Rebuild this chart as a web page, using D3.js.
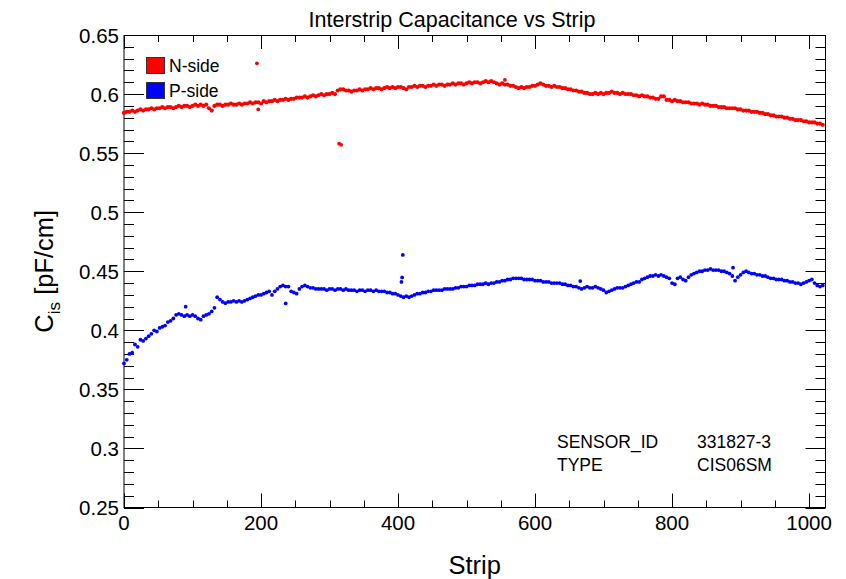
<!DOCTYPE html>
<html>
<head>
<meta charset="utf-8">
<script src="https://cdn.jsdelivr.net/npm/d3@7"></script>
<style>
  body { margin: 0; background: #fff; }
  text { font-family: "Liberation Sans", Arial, sans-serif; }
</style>
</head>
<body>
<div id="chart"></div>
<script>
// strips are measured every 4th channel (index * stripStep)
const stripStep = 4;

const nSide = [
  0.584,0.585,0.585,0.586,0.585,0.586,0.587,0.586,0.587,0.587,0.588,0.587,0.588,0.588,0.589,0.588,
  0.589,0.589,0.588,0.589,0.590,0.589,0.590,0.590,0.589,0.590,0.591,0.590,0.591,0.590,0.591,0.588,
  0.586,0.590,0.591,0.591,0.590,0.591,0.591,0.592,0.591,0.591,0.592,0.591,0.592,0.592,0.593,0.592,
  0.593,0.593,0.592,0.594,0.593,0.594,0.594,0.595,0.594,0.595,0.595,0.596,0.595,0.596,0.596,0.597,
  0.597,0.597,0.598,0.597,0.598,0.599,0.598,0.599,0.600,0.599,0.600,0.600,0.601,0.600,0.603,0.604,
  0.604,0.603,0.603,0.602,0.603,0.603,0.604,0.603,0.604,0.604,0.605,0.604,0.605,0.605,0.604,0.605,
  0.606,0.605,0.606,0.605,0.606,0.606,0.605,0.604,0.606,0.606,0.607,0.606,0.607,0.607,0.606,0.607,
  0.607,0.608,0.607,0.608,0.608,0.607,0.608,0.608,0.609,0.608,0.609,0.609,0.608,0.609,0.610,0.609,
  0.610,0.610,0.609,0.610,0.611,0.610,0.611,0.610,0.609,0.608,0.609,0.608,0.608,0.607,0.607,0.606,
  0.605,0.606,0.605,0.606,0.606,0.607,0.607,0.608,0.609,0.608,0.607,0.607,0.606,0.607,0.606,0.606,
  0.605,0.605,0.604,0.604,0.603,0.603,0.602,0.602,0.601,0.601,0.600,0.600,0.601,0.600,0.601,0.600,
  0.601,0.601,0.602,0.601,0.601,0.600,0.601,0.600,0.600,0.600,0.599,0.599,0.598,0.599,0.598,0.598,
  0.597,0.597,0.596,0.596,0.598,0.598,0.595,0.595,0.594,0.595,0.594,0.594,0.593,0.593,0.593,0.592,
  0.592,0.592,0.591,0.592,0.591,0.591,0.590,0.590,0.590,0.589,0.589,0.589,0.588,0.588,0.588,0.588,
  0.587,0.587,0.586,0.586,0.586,0.585,0.585,0.585,0.584,0.584,0.583,0.583,0.582,0.582,0.581,0.581,
  0.581,0.580,0.580,0.579,0.579,0.578,0.578,0.578,0.577,0.577,0.576,0.576,0.576,0.575,0.575,0.574
];

const pSide = [
  0.372,0.375,0.380,0.381,0.388,0.386,0.392,0.391,0.393,0.395,0.397,0.400,0.399,0.402,0.403,0.404,
  0.407,0.408,0.410,0.413,0.414,0.413,0.412,0.413,0.412,0.413,0.412,0.410,0.409,0.412,0.413,0.414,
  0.416,0.419,0.428,0.426,0.424,0.423,0.424,0.424,0.425,0.424,0.425,0.424,0.425,0.426,0.427,0.428,
  0.429,0.430,0.430,0.431,0.432,0.433,0.430,0.433,0.435,0.437,0.438,0.437,0.437,0.433,0.432,0.431,
  0.435,0.437,0.438,0.437,0.436,0.436,0.435,0.435,0.435,0.435,0.434,0.435,0.435,0.434,0.435,0.435,
  0.434,0.435,0.434,0.434,0.434,0.433,0.434,0.434,0.433,0.434,0.434,0.433,0.434,0.433,0.433,0.433,
  0.432,0.432,0.431,0.431,0.430,0.429,0.428,0.429,0.428,0.429,0.430,0.431,0.431,0.432,0.432,0.433,
  0.433,0.434,0.434,0.434,0.434,0.435,0.435,0.435,0.435,0.436,0.436,0.437,0.437,0.437,0.438,0.438,
  0.438,0.439,0.439,0.439,0.440,0.439,0.440,0.440,0.441,0.441,0.442,0.442,0.443,0.443,0.444,0.444,
  0.444,0.444,0.443,0.443,0.443,0.443,0.442,0.442,0.442,0.441,0.441,0.441,0.440,0.440,0.440,0.440,
  0.439,0.439,0.438,0.438,0.437,0.437,0.436,0.435,0.436,0.437,0.436,0.436,0.437,0.436,0.435,0.434,
  0.432,0.433,0.434,0.435,0.436,0.436,0.436,0.437,0.438,0.439,0.440,0.441,0.441,0.443,0.444,0.445,
  0.446,0.446,0.447,0.446,0.447,0.446,0.445,0.444,0.440,0.439,0.444,0.445,0.443,0.442,0.445,0.447,
  0.448,0.449,0.450,0.450,0.451,0.451,0.452,0.451,0.451,0.451,0.450,0.450,0.449,0.448,0.446,0.442,
  0.445,0.447,0.449,0.450,0.449,0.448,0.448,0.447,0.447,0.446,0.446,0.445,0.444,0.444,0.443,0.443,
  0.443,0.442,0.442,0.441,0.441,0.440,0.440,0.439,0.440,0.441,0.442,0.443,0.440,0.438,0.437,0.438
];

// odd strips that stick out of the band
const nOutStrips = [194, 196, 314, 317, 556];
const nOutValues = [0.626, 0.587, 0.558, 0.557, 0.612];
const pOutStrips = [90, 236, 405, 406, 407, 666, 889];
const pOutValues = [0.420, 0.4228, 0.441, 0.4448, 0.4638, 0.4417, 0.453];

const xTicks = [0, 200, 400, 600, 800, 1000];
const yTicks = [0.25, 0.3, 0.35, 0.4, 0.45, 0.5, 0.55, 0.6, 0.65];

const seriesNames = ["N-side", "P-side"];
const seriesColors = ["#ff0000", "#0000ff"];
const infoKeys = ["SENSOR_ID", "TYPE"];
const infoValues = ["331827-3", "CIS06SM"];

const width = 846, height = 579;
const margin = { top: 35, right: 20, bottom: 71, left: 124 };
const x0 = margin.left, x1 = width - margin.right - 0.5;
const y0 = height - margin.bottom - 0.5, y1 = margin.top;

const x = d3.scaleLinear().domain([0, 1024]).range([x0, x1]);
const y = d3.scaleLinear().domain([0.25, 0.65]).range([y0, y1]);

const svg = d3.select("#chart").append("svg")
    .attr("width", width)
    .attr("height", height);

// ticks on all four sides, ROOT style (inward)
const xMinor = d3.range(0, 1024, 50).filter(v => v % 200 !== 0);
const yMinor = d3.range(25, 66).map(v => v / 100).filter(v => Math.round(v * 100) % 5 !== 0);

const tickG = svg.append("g").attr("stroke", "#000").attr("stroke-width", 1);
const addXTicks = (vals, len) => {
    tickG.selectAll(null).data(vals).join("line")
        .attr("x1", d => Math.round(x(d)) + 0.5).attr("x2", d => Math.round(x(d)) + 0.5)
        .attr("y1", y0).attr("y2", y0 - len);
    tickG.selectAll(null).data(vals).join("line")
        .attr("x1", d => Math.round(x(d)) + 0.5).attr("x2", d => Math.round(x(d)) + 0.5)
        .attr("y1", y1).attr("y2", y1 + len);
};
const addYTicks = (vals, len) => {
    tickG.selectAll(null).data(vals).join("line")
        .attr("y1", d => Math.round(y(d)) + 0.5).attr("y2", d => Math.round(y(d)) + 0.5)
        .attr("x1", x0).attr("x2", x0 + len);
    tickG.selectAll(null).data(vals).join("line")
        .attr("y1", d => Math.round(y(d)) + 0.5).attr("y2", d => Math.round(y(d)) + 0.5)
        .attr("x1", x1).attr("x2", x1 - len);
};
addXTicks(xTicks, 14);
addXTicks(xMinor, 7);
addYTicks(yTicks, 20);
addYTicks(yMinor, 10);

svg.append("rect")
    .attr("x", x0).attr("y", y1 + 0.5)
    .attr("width", x1 - x0).attr("height", y0 - y1 - 0.5)
    .attr("fill", "none").attr("stroke", "#000");

// tick labels
svg.append("g").selectAll("text").data(xTicks).join("text")
    .attr("x", d => x(d)).attr("y", y0 + 22)
    .attr("text-anchor", "middle")
    .attr("font-size", 20.5)
    .text(d => d);

svg.append("g").selectAll("text").data(yTicks).join("text")
    .attr("x", x0 - 5).attr("y", d => y(d) + 7.5)
    .attr("text-anchor", "end")
    .attr("font-size", 20.5)
    .text(d => d3.format("")(d));

// points
const plotG = svg.append("g");
const drawSeries = (vals, color, r) => {
    plotG.append("g").attr("fill", color)
        .selectAll("circle").data(vals).join("circle")
        .attr("cx", (d, i) => x(i * stripStep))
        .attr("cy", d => y(d))
        .attr("r", r);
};
const drawOut = (strips, vals, color, r) => {
    plotG.append("g").attr("fill", color)
        .selectAll("circle").data(strips).join("circle")
        .attr("cx", d => x(d))
        .attr("cy", (d, i) => y(vals[i]))
        .attr("r", r);
};
drawSeries(nSide, seriesColors[0], 2.1);
drawSeries(pSide, seriesColors[1], 1.9);
drawOut(nOutStrips, nOutValues, seriesColors[0], 1.9);
drawOut(pOutStrips, pOutValues, seriesColors[1], 1.9);

// legend
const legend = svg.append("g").selectAll("g").data(seriesNames).join("g")
    .attr("transform", (d, i) => `translate(146,${57 + i * 25})`);
legend.append("rect")
    .attr("x", 0.5).attr("y", 0.5)
    .attr("width", 18).attr("height", 16)
    .attr("fill", (d, i) => seriesColors[i])
    .attr("stroke", "#333");
legend.append("text")
    .attr("x", 23).attr("y", 15)
    .attr("font-size", 17.5)
    .text(d => d);

// sensor info
const info = svg.append("g").selectAll("g").data(infoKeys).join("g")
    .attr("transform", (d, i) => `translate(557,${448 + i * 23})`);
info.append("text").attr("font-size", 17.5).text(d => d);
info.append("text").attr("x", 140).attr("font-size", 17.5).text((d, i) => infoValues[i]);

// titles
svg.append("text")
    .attr("x", 452).attr("y", 27)
    .attr("text-anchor", "middle")
    .attr("font-size", 21.5)
    .text("Interstrip Capacitance vs Strip");

svg.append("text")
    .attr("x", (x0 + x1) / 2).attr("y", 574)
    .attr("text-anchor", "middle")
    .attr("font-size", 25.5)
    .text("Strip");

const yLab = svg.append("text")
    .attr("transform", `translate(53,${(y0 + y1) / 2}) rotate(-90)`)
    .attr("text-anchor", "middle")
    .attr("font-size", 25.5);
yLab.append("tspan").text("C");
yLab.append("tspan").attr("font-size", 17).attr("dy", 7).text("is");
yLab.append("tspan").attr("dy", -7).text(" [pF/cm]");
</script>
</body>
</html>
